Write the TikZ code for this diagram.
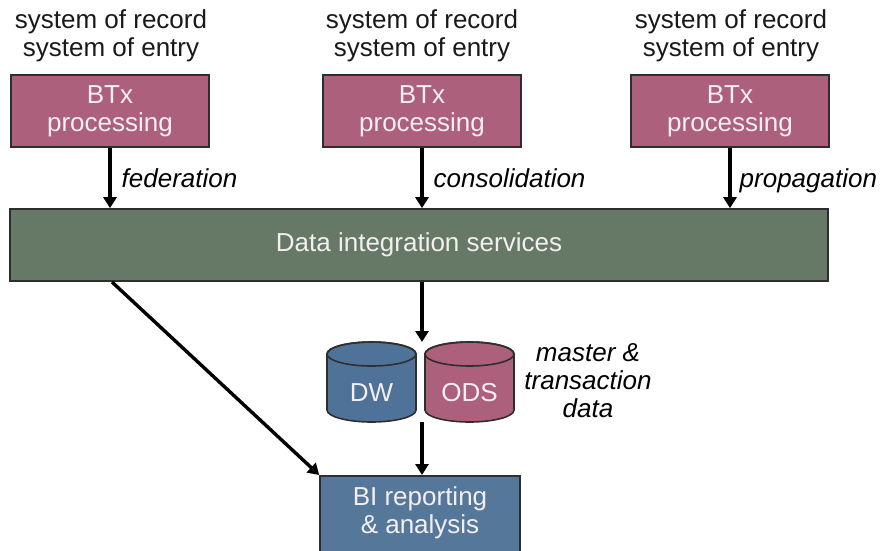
\documentclass[tikz,border=0pt]{standalone}
\usepackage{fontspec}
\setmainfont{Liberation Sans}
\usetikzlibrary{arrows.meta}
\definecolor{btxfill}{HTML}{AD607B}
\definecolor{difill}{HTML}{667966}
\definecolor{bifill}{HTML}{55789A}
\definecolor{dwfill}{HTML}{4F7398}
\definecolor{edge}{HTML}{2E2E2E}
\definecolor{boxtext}{HTML}{F4EEF0}
\newcommand{\diagfont}{\fontsize{26}{28}\selectfont}
\tikzset{
  boxbase/.style={draw=edge, line width=1.6pt, inner sep=0pt, align=center,
    text=boxtext, font=\diagfont},
  btx/.style={boxbase, fill=btxfill, minimum width=198pt, minimum height=72pt},
  topnote/.style={align=center, text=black!90, font=\diagfont, inner sep=0pt},
  flowlabel/.style={anchor=base west, yshift=-9pt, font=\itshape\diagfont, inner sep=0pt},
  flow/.style={line width=3.4pt, -{Triangle[length=11pt,width=13pt]}},
  drum/.style={draw=edge, line width=1.6pt},
}
\begin{document}
\begin{tikzpicture}[x=1pt, y=-1pt]
  \useasboundingbox (0,0) rectangle (883,551);
  \clip (0,0) rectangle (883,551);

  % source systems
  \node[topnote] (n1) at (111,36) {system of record\\system of entry};
  \node[topnote] (n2) at (422,36) {system of record\\system of entry};
  \node[topnote] (n3) at (731,36) {system of record\\system of entry};

  \node[btx] (b1) at (110,111) {BTx\\processing};
  \node[btx] (b2) at (422,111) {BTx\\processing};
  \node[btx] (b3) at (730,111) {BTx\\processing};

  % integration layer
  \node[boxbase, fill=difill, minimum width=818pt, minimum height=72pt] (di) at (419,245)
    {Data integration services};

  \draw[flow] (b1.south) -- (b1.south |- di.north)
    node[flowlabel, pos=0.5, xshift=10pt] {federation};
  \draw[flow] (b2.south) -- (b2.south |- di.north)
    node[flowlabel, pos=0.5, xshift=10pt] {consolidation};
  \draw[flow] (b3.south) -- (b3.south |- di.north)
    node[flowlabel, pos=0.5, xshift=8pt] {propagation};

  % data stores
  \coordinate (dwc) at (371.5,354);
  \coordinate (odsc) at (469.5,354);
  \path[drum, fill=dwfill] (327,354) -- (327,410)
    arc[start angle=180, end angle=360, x radius=44.5pt, y radius=12pt]
    -- (416,354) arc[start angle=0, end angle=180, x radius=44.5pt, y radius=12pt] -- cycle;
  \draw[drum] (dwc) ellipse[x radius=44.5pt, y radius=12pt];
  \path[drum, fill=btxfill] (425,354) -- (425,410)
    arc[start angle=180, end angle=360, x radius=44.5pt, y radius=12pt]
    -- (514,354) arc[start angle=0, end angle=180, x radius=44.5pt, y radius=12pt] -- cycle;
  \draw[drum] (odsc) ellipse[x radius=44.5pt, y radius=12pt];
  \node[text=boxtext, font=\diagfont] (dw) at (371.5,393) {DW};
  \node[text=boxtext, font=\diagfont] (ods) at (469.5,393) {ODS};
  \coordinate (storetop) at (422,342);
  \coordinate (storebot) at (422,422);

  \node[align=center, font=\itshape\diagfont, inner sep=0pt] (mt) at (588,381)
    {master \&\\transaction\\data};

  % reporting
  \node[boxbase, fill=bifill, minimum width=200pt, minimum height=100pt, anchor=north] (bi) at (420,475) {};
  \node[text=boxtext, align=center, font=\diagfont, inner sep=0pt] (bitext) at (420,513)
    {BI reporting\\\& analysis};

  \draw[flow] (storetop |- di.south) -- (storetop);
  \draw[flow] (storebot) -- (storebot |- bi.north);
  \draw[flow] (112,282) -- (bi.north west);
\end{tikzpicture}
\end{document}
